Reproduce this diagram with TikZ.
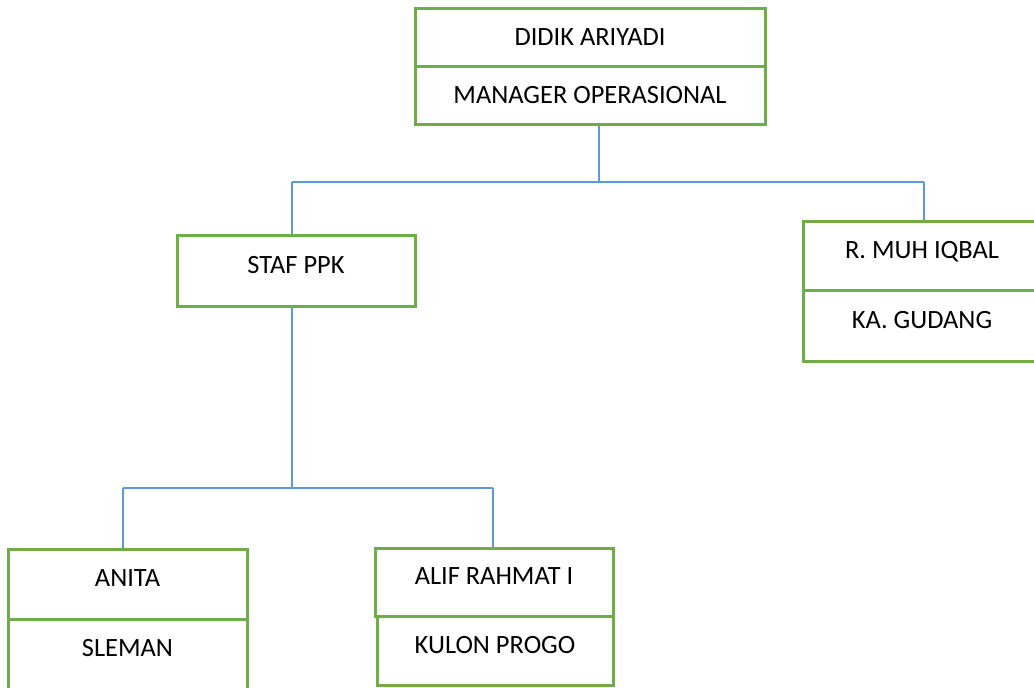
\documentclass[tikz,border=0pt]{standalone}
\usepackage{fontspec}
\setmainfont{Carlito}
\definecolor{boxgreen}{HTML}{70AD47}
\definecolor{linkblue}{HTML}{5B9BD5}
\begin{document}
\begin{tikzpicture}[x=0.75pt,y=-0.75pt,
  box/.style={draw=boxgreen,line width=2.25pt,rectangle,inner sep=0pt,
    font=\fontsize{19.8pt}{22pt}\selectfont,text height=15pt,text depth=11.25pt},
  topbox/.style={box,text depth=2.25pt},
  link/.style={draw=linkblue,line width=1.1pt}]
\clip (0,0) rectangle (1034,687);
\fill[white] (0,0) rectangle (1034,687);
% top: manager
\node[topbox,minimum width=262.5pt,minimum height=43.5pt] (mgrname) at (590,37) {DIDIK ARIYADI};
\node[topbox,minimum width=262.5pt,minimum height=43.5pt] (mgrrole) at (590,95) {MANAGER OPERASIONAL};
% second level
\node[box,minimum width=178.5pt,minimum height=53.25pt] (staf) at (296,270.5) {STAF PPK};
\node[box,minimum width=178.5pt,minimum height=51.75pt] (iqname) at (922,255.5) {R. MUH IQBAL};
\node[box,minimum width=178.5pt,minimum height=53.25pt] (iqrole) at (922,325.5) {KA. GUDANG};
% third level
\node[box,minimum width=179.25pt,minimum height=52.5pt] (anname) at (127.5,584) {ANITA};
\node[box,minimum width=179.25pt,minimum height=52.5pt] (anrole) at (127.5,654) {SLEMAN};
\node[box,minimum width=178.5pt,minimum height=51pt] (alname) at (494,582) {ALIF RAHMAT I};
\node[box,minimum width=177pt,minimum height=51.75pt] (alrole) at (495,650.5) {KULON PROGO};
% connector junctions
\coordinate (joint) at (599,182);
\coordinate (busL) at (292,182);
\coordinate (busR) at (924,182);
\coordinate (sjoint) at (292,488);
\coordinate (bus2L) at (123,488);
\coordinate (bus2R) at (493,488);
% connectors
\draw[link] (joint |- mgrrole.south) -- (joint);
\draw[link] (busL) -- (busR);
\draw[link] (busL) -- (busL |- staf.north);
\draw[link] (busR) -- (busR |- iqname.north);
\draw[link] (sjoint |- staf.south) -- (sjoint);
\draw[link] (bus2L) -- (bus2R);
\draw[link] (bus2L) -- (bus2L |- anname.north);
\draw[link] (bus2R) -- (bus2R |- alname.north);
\end{tikzpicture}
\end{document}
